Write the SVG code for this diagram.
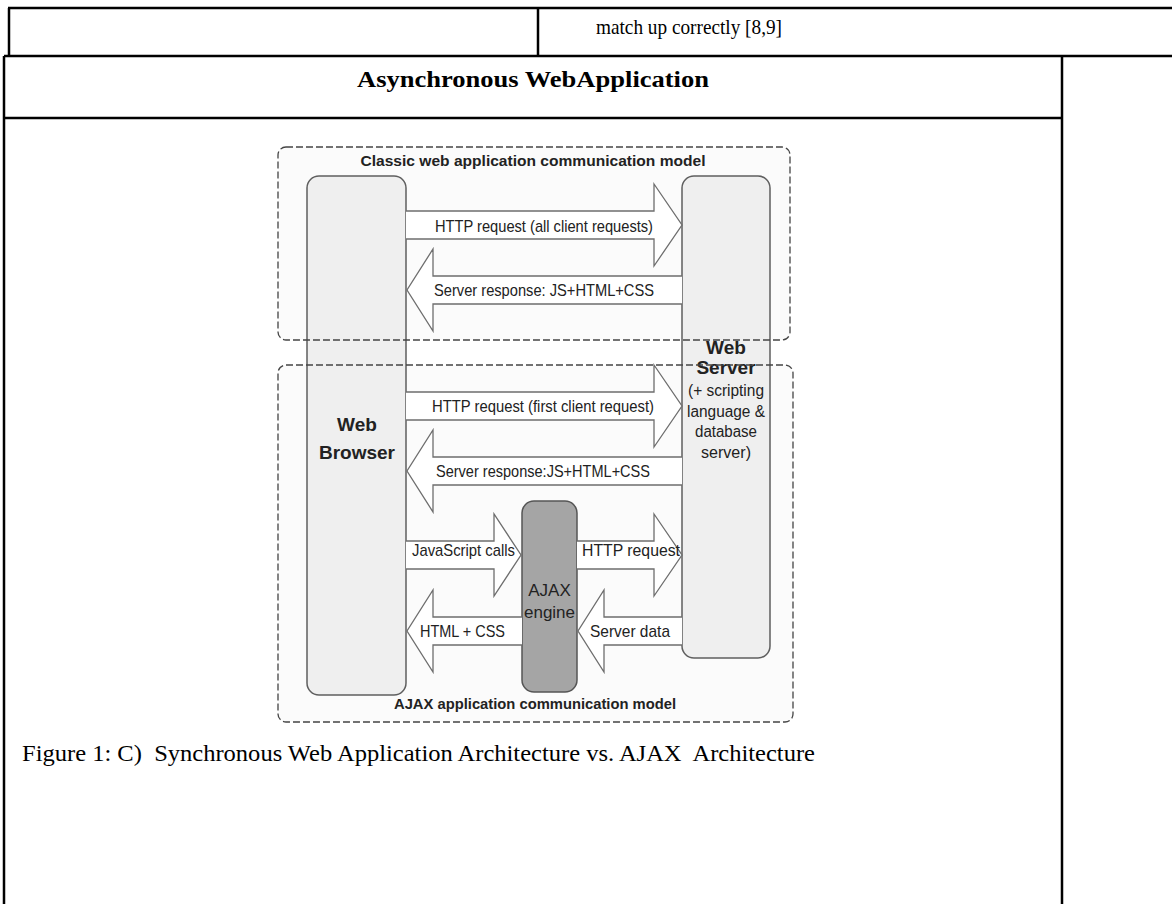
<svg xmlns="http://www.w3.org/2000/svg" width="1172" height="904" viewBox="0 0 1172 904">
<style>
.tl{stroke:#000;stroke-width:2.5;fill:none}
.serif{font-family:"Liberation Serif","Times New Roman",serif;fill:#000}
.sans{font-family:"Liberation Sans Narrow","Liberation Sans",Arial,sans-serif;fill:#222}
.dfill{fill:#fbfbfb;stroke:none}
.dash{fill:none;stroke:#444;stroke-width:1.3;stroke-dasharray:7 3}
.box{fill:#efefef;stroke:#5f5f5f;stroke-width:1.5}
.eng{fill:#a5a5a5;stroke:#555;stroke-width:1.5}
.arr{fill:#fff;stroke:#6e6e6e;stroke-width:1.3}
.lbl{font-size:17px}
.bold{font-weight:bold}
</style>
<rect width="1172" height="904" fill="#fff"/>
<g id="table">
<line class="tl" x1="8" y1="8" x2="1172" y2="8"/>
<line class="tl" x1="9" y1="8" x2="9" y2="56"/>
<line class="tl" x1="538" y1="8" x2="538" y2="56"/>
<line class="tl" x1="4" y1="56" x2="1172" y2="56"/>
<line class="tl" x1="4" y1="56" x2="4" y2="904"/>
<line class="tl" x1="1062" y1="56" x2="1062" y2="904"/>
<line class="tl" x1="4" y1="118" x2="1062" y2="118"/>
<text class="serif" x="596" y="34" font-size="21" textLength="186" lengthAdjust="spacingAndGlyphs">match up correctly [8,9]</text>
<text class="serif" x="533" y="87" font-size="24" font-weight="bold" text-anchor="middle" textLength="352" lengthAdjust="spacingAndGlyphs">Asynchronous WebApplication</text>
<text class="serif" x="22" y="761" font-size="23" xml:space="preserve" textLength="793" lengthAdjust="spacingAndGlyphs">Figure 1: C)  Synchronous Web Application Architecture vs. AJAX  Architecture</text>
</g>
<g id="model-backgrounds">
<rect class="dfill" x="278" y="147" width="512" height="193" rx="8"/>
<rect class="dfill" x="278" y="365" width="515" height="357" rx="8"/>
</g>
<g id="web-browser">
<rect class="box" x="307" y="176" width="99" height="519" rx="12"/>
<text class="sans bold" x="357" y="431" font-size="19" text-anchor="middle">Web</text>
<text class="sans bold" x="357" y="459" font-size="19" text-anchor="middle">Browser</text>
</g>
<g id="web-server">
<rect class="box" x="682" y="176" width="88" height="482" rx="12"/>
<text class="sans bold" x="726" y="354" font-size="19" text-anchor="middle">Web</text>
<text class="sans bold" x="726" y="374" font-size="19" text-anchor="middle">Server</text>
<text class="sans" x="726" y="396" font-size="16" text-anchor="middle" textLength="76" lengthAdjust="spacingAndGlyphs">(+ scripting</text>
<text class="sans" x="726" y="417" font-size="16" text-anchor="middle" textLength="78" lengthAdjust="spacingAndGlyphs">language &amp;</text>
<text class="sans" x="726" y="437" font-size="16" text-anchor="middle" textLength="62" lengthAdjust="spacingAndGlyphs">database</text>
<text class="sans" x="726" y="458" font-size="16" text-anchor="middle" textLength="50" lengthAdjust="spacingAndGlyphs">server)</text>
</g>
<g id="ajax-engine">
<rect class="eng" x="522" y="501" width="55" height="191" rx="12"/>
<text class="sans" x="549.5" y="596" font-size="17" text-anchor="middle">AJAX</text>
<text class="sans" x="549.5" y="618" font-size="17" text-anchor="middle">engine</text>
</g>
<g id="connectors">
<path class="arr" d="M406,211 H654 V184 L682,225 L654,266 V239 H406"/>
<path class="arr" d="M682,276 H433 V249 L407,290 L433,331 V304 H682"/>
<path class="arr" d="M406,392 H654 V365 L682,406 L654,447 V420 H406"/>
<path class="arr" d="M682,457 H433 V430 L407,471 L433,512 V485 H682"/>
<path class="arr" d="M406,541 H494 V514 L521,555 L494,596 V569 H406"/>
<path class="arr" d="M577,541 H654 V514 L682,555 L654,596 V569 H577"/>
<path class="arr" d="M522,617 H433 V590 L407,631 L433,672 V645 H522"/>
<path class="arr" d="M682,617 H604 V590 L578,631 L604,672 V645 H682"/>
<text class="sans lbl" x="435" y="232" textLength="218" lengthAdjust="spacingAndGlyphs">HTTP request (all client requests)</text>
<text class="sans lbl" x="434" y="296" textLength="220" lengthAdjust="spacingAndGlyphs">Server response: JS+HTML+CSS</text>
<text class="sans lbl" x="432" y="412" textLength="222" lengthAdjust="spacingAndGlyphs">HTTP request (first client request)</text>
<text class="sans lbl" x="436" y="477" textLength="214" lengthAdjust="spacingAndGlyphs">Server response:JS+HTML+CSS</text>
<text class="sans lbl" x="412" y="556" textLength="103" lengthAdjust="spacingAndGlyphs">JavaScript calls</text>
<text class="sans lbl" x="582" y="556" textLength="98" lengthAdjust="spacingAndGlyphs">HTTP request</text>
<text class="sans lbl" x="420" y="637" textLength="85" lengthAdjust="spacingAndGlyphs">HTML + CSS</text>
<text class="sans lbl" x="590" y="637" textLength="80" lengthAdjust="spacingAndGlyphs">Server data</text>
</g>
<g id="classic-model">
<rect class="dash" x="278" y="147" width="512" height="193" rx="8"/>
<text class="sans bold" x="533" y="166" font-size="15" text-anchor="middle" textLength="345" lengthAdjust="spacingAndGlyphs">Classic web application communication model</text>
</g>
<g id="ajax-model">
<rect class="dash" x="278" y="365" width="515" height="357" rx="8"/>
<text class="sans bold" x="535" y="709" font-size="15" text-anchor="middle" textLength="282" lengthAdjust="spacingAndGlyphs">AJAX application communication model</text>
</g>
</svg>
